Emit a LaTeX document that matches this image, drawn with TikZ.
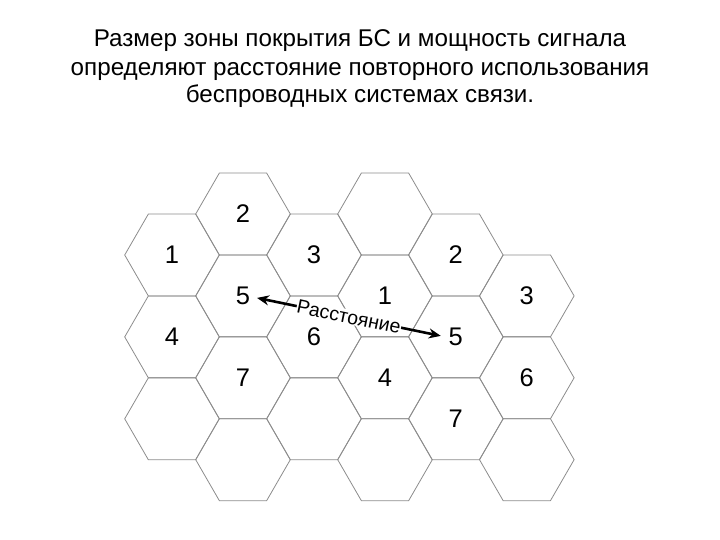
\documentclass[tikz,border=0pt]{standalone}
\usepackage{fontspec}
\setmainfont{Liberation Sans}
\usetikzlibrary{arrows.meta,calc}
\begin{document}
\begin{tikzpicture}[x=1pt,y=-1pt,
  hexline/.style={draw=black!45, line width=0.8pt},
  cellnum/.style={inner sep=0pt, font=\fontsize{25.5}{25.5}\selectfont},
  titletext/.style={anchor=base, font=\fontsize{24.2}{28}\selectfont},
  distarrow/.style={line width=2.6pt, {Stealth[length=12pt,width=10pt]}-{Stealth[length=12pt,width=10pt]}},
  distlabel/.style={sloped, fill=white, inner sep=0.5pt, font=\fontsize{19.5}{19.5}\selectfont}]
\useasboundingbox (0,0) rectangle (720,540);
\node[titletext] (t1) at (360,47) {Размер зоны покрытия БС и мощность сигнала};
\node[titletext] (t2) at (360,76) {определяют расстояние повторного использования};
\node[titletext] (t3) at (360,103) {беспроводных системах связи.};
% hexagon outlines (flat-top, circumradius 47.3)
\foreach \cx/\cy in {172/255, 172/336.9, 172/418.8,
                     243/214, 243/295.9, 243/377.8, 243/459.7,
                     314/255, 314/336.9, 314/418.8,
                     385/214, 385/295.9, 385/377.8, 385/459.7,
                     455.8/255, 455.8/336.9, 455.8/418.8,
                     526.8/295.9, 526.8/377.8, 526.8/459.7}
  \draw[hexline] (\cx,\cy) ++(47.3,0) -- ++(-23.65,40.96) -- ++(-47.3,0)
        -- ++(-23.65,-40.96) -- ++(23.65,-40.96) -- ++(47.3,0) -- cycle;
% cell numbers
\node[cellnum] (n1a) at (172,255) {1};
\node[cellnum] (n4a) at (172,336.9) {4};
\node[cellnum] (n2a) at (243,214) {2};
\node[cellnum] (n5a) at (243,295.9) {5};
\node[cellnum] (n7a) at (243,377.8) {7};
\node[cellnum] (n3a) at (314,255) {3};
\node[cellnum] (n6a) at (314,336.9) {6};
\node[cellnum] (n1b) at (385,295.9) {1};
\node[cellnum] (n4b) at (385,377.8) {4};
\node[cellnum] (n2b) at (455.8,255) {2};
\node[cellnum] (n5b) at (455.8,336.9) {5};
\node[cellnum] (n7b) at (455.8,418.8) {7};
\node[cellnum] (n3b) at (526.8,295.9) {3};
\node[cellnum] (n6b) at (526.8,377.8) {6};
% distance arrow
\coordinate (aL) at ($(n5a)+(14,2)$);
\coordinate (aR) at ($(n5b)+(-15,-1)$);
\draw[distarrow] (aL) -- node[distlabel] (dl) {Расстояние} (aR);
\end{tikzpicture}
\end{document}
